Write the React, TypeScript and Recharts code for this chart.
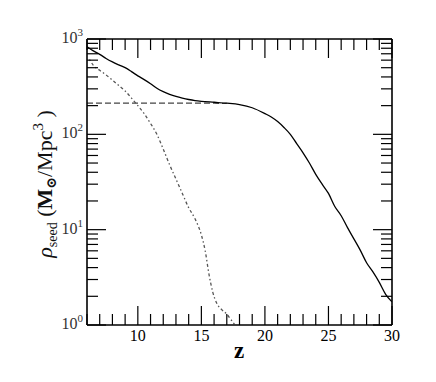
import React from 'react';
import { LineChart, Line, XAxis, YAxis } from 'recharts';

// redshift samples and seed density values
const zTotal = [6, 6.5, 7, 7.5, 8, 8.5, 9, 9.5, 10, 10.5, 11, 11.5, 12, 12.5, 13, 13.5, 14, 14.5, 15, 16, 17, 18, 19, 20, 20.5, 21, 21.5, 22, 22.5, 23, 23.5, 24, 24.5, 25, 25.5, 26, 26.5, 27, 27.5, 28, 28.5, 29, 29.5, 30];
const rhoTotal = [830, 750, 690, 625, 575, 535, 500, 455, 410, 375, 340, 304, 280, 263, 250, 240, 232, 226, 222, 217, 212, 205, 190, 165, 152, 136, 118, 100, 80, 64, 50, 38, 30, 24, 17.5, 14, 10.5, 8, 6.1, 4.5, 3.6, 2.8, 2.1, 1.75];

const zFlat = [6, 8, 10, 12, 14, 16, 17];
const rhoFlat = [213, 213, 213, 213, 213, 212, 211];

const zFalling = [6.2, 6.5, 7, 7.5, 8, 8.5, 9, 9.5, 10, 10.5, 11, 11.5, 12, 12.5, 13, 13.5, 14, 14.5, 15, 15.3, 15.6, 15.9, 16.2, 16.6, 17, 17.3, 17.6];
const rhoFalling = [610, 530, 470, 420, 370, 325, 285, 240, 200, 165, 130, 100, 70, 48, 34, 24, 17, 13, 8.8, 6.0, 3.4, 2.2, 1.7, 1.45, 1.3, 1.15, 1.02];

const xTicks = [6, 7, 8, 9, 10, 11, 12, 13, 14, 15, 16, 17, 18, 19, 20, 21, 22, 23, 24, 25, 26, 27, 28, 29, 30];
const xMajor = [10, 15, 20, 25, 30];
const yTicks = [1, 2, 3, 4, 5, 6, 7, 8, 9, 10, 20, 30, 40, 50, 60, 70, 80, 90, 100, 200, 300, 400, 500, 600, 700, 800, 900, 1000];
const yMajor = [1, 10, 100, 1000];

const toRows = (xs: number[], ys: number[]) => xs.map((z, i) => ({ z, rho: ys[i] }));

const FONT = '"Liberation Serif", "DejaVu Serif", serif';
const MAJOR = 19;
const MINOR = 11;

const BottomTick = (props: any) => {
  const { x, y, payload } = props;
  const major = xMajor.includes(payload.value);
  return (
    <g>
      <line x1={x} y1={y} x2={x} y2={y - (major ? MAJOR : MINOR)} stroke="#000" strokeWidth={1.2} />
      {major && (
        <text x={x} y={y + 16} textAnchor="middle" fontSize={16} fontFamily={FONT} fill="#000">
          {payload.value}
        </text>
      )}
    </g>
  );
};

const TopTick = (props: any) => {
  const { x, y, payload } = props;
  const major = xMajor.includes(payload.value);
  return <line x1={x} y1={y} x2={x} y2={y + (major ? MAJOR : MINOR)} stroke="#000" strokeWidth={1.2} />;
};

const LeftTick = (props: any) => {
  const { x, y, payload } = props;
  const major = yMajor.includes(payload.value);
  const exp = Math.round(Math.log10(payload.value));
  return (
    <g>
      <line x1={x} y1={y} x2={x + (major ? MAJOR : MINOR)} y2={y} stroke="#000" strokeWidth={1.2} />
      {major && (
        <text x={x - 4} y={y + 4} textAnchor="end" fontSize={16} fontFamily={FONT} fill="#333">
          10
          <tspan fontSize={11} dy={-7}>{exp}</tspan>
        </text>
      )}
    </g>
  );
};

const RightTick = (props: any) => {
  const { x, y, payload } = props;
  const major = yMajor.includes(payload.value);
  return <line x1={x} y1={y} x2={x - (major ? MAJOR : MINOR)} y2={y} stroke="#000" strokeWidth={1.2} />;
};

const axisLine = { stroke: '#000', strokeWidth: 1.6 };

export default function App() {
  return (
    <div style={{ position: 'absolute', left: 0, top: 0, width: 436, height: 382, background: '#fff' }}>
      <LineChart width={436} height={382} margin={{ top: 38, right: 43, bottom: 56, left: 86 }}>
        <XAxis
          xAxisId="b"
          dataKey="z"
          type="number"
          domain={[6, 30]}
          ticks={xTicks}
          interval={0}
          height={1}
          tickSize={0}
          tickMargin={0}
          tick={<BottomTick />}
          axisLine={axisLine}
          allowDataOverflow
        />
        <XAxis
          xAxisId="t"
          orientation="top"
          dataKey="z"
          type="number"
          domain={[6, 30]}
          ticks={xTicks}
          interval={0}
          height={1}
          tickSize={0}
          tickMargin={0}
          tick={<TopTick />}
          axisLine={axisLine}
          allowDataOverflow
        />
        <YAxis
          yAxisId="l"
          scale="log"
          domain={[1, 1000]}
          ticks={yTicks}
          interval={0}
          width={1}
          tickSize={0}
          tickMargin={0}
          tick={<LeftTick />}
          axisLine={axisLine}
          allowDataOverflow
        />
        <YAxis
          yAxisId="r"
          orientation="right"
          scale="log"
          domain={[1, 1000]}
          ticks={yTicks}
          interval={0}
          width={1}
          tickSize={0}
          tickMargin={0}
          tick={<RightTick />}
          axisLine={axisLine}
          allowDataOverflow
        />
        <Line
          xAxisId="b"
          yAxisId="l"
          data={toRows(zFlat, rhoFlat)}
          dataKey="rho"
          type="linear"
          stroke="#444"
          strokeWidth={1.3}
          strokeDasharray="6 3"
          dot={false}
          isAnimationActive={false}
        />
        <Line
          xAxisId="b"
          yAxisId="l"
          data={toRows(zFalling, rhoFalling)}
          dataKey="rho"
          type="monotone"
          stroke="#555"
          strokeWidth={1.3}
          strokeDasharray="1.5 2.5 3 2.5"
          dot={false}
          isAnimationActive={false}
        />
        <Line
          xAxisId="b"
          yAxisId="l"
          data={toRows(zTotal, rhoTotal)}
          dataKey="rho"
          type="monotone"
          stroke="#000"
          strokeWidth={1.3}
          dot={false}
          isAnimationActive={false}
        />
        <text x={239} y={358} textAnchor="middle" fontSize={23} fontWeight="bold" fontFamily={FONT} fill="#000">
          z
        </text>
        <text
          x={0}
          y={0}
          transform="translate(52 184) rotate(-90)"
          textAnchor="middle"
          fontSize={22}
          fontFamily={FONT}
          fill="#111"
        >
          <tspan fontStyle="italic">ρ</tspan>
          <tspan fontSize={14} dy={5}>seed</tspan>
          <tspan dy={-5}> (</tspan>
          <tspan fontWeight="bold">M</tspan>
          <tspan fontWeight="bold" fontSize={14} dy={4}>⊙</tspan>
          <tspan dy={-4}>/Mpc</tspan>
          <tspan fontSize={15} dy={-9}>3</tspan>
          <tspan dy={9}> )</tspan>
        </text>
      </LineChart>
    </div>
  );
}
